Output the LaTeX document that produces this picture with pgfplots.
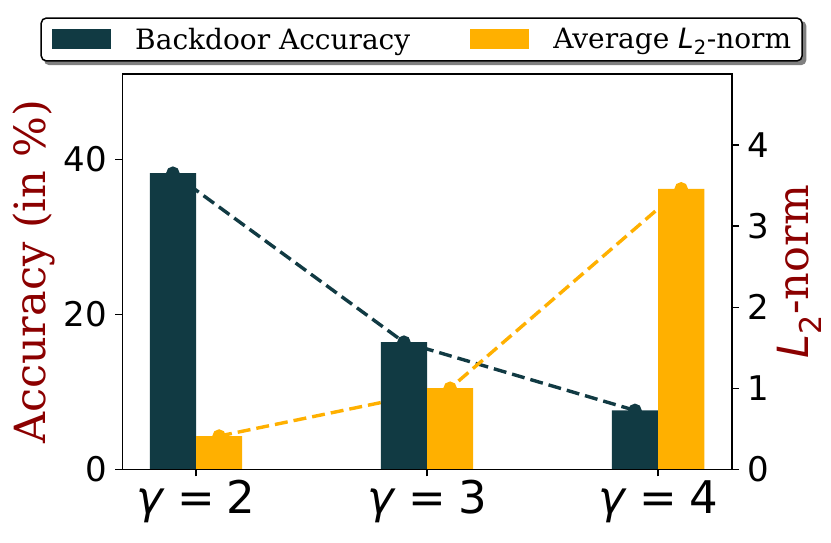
\documentclass[border=0pt]{standalone}
\usepackage{pgfplots}
\pgfplotsset{compat=1.18}
\usepackage{pgfplotstable}
\usepackage{fontspec}
\setmainfont{DejaVu Serif}
\newfontfamily\dejasans{DejaVu Sans}
\pgfdeclarelayer{background}
\pgfsetlayers{background,main}
\definecolor{darkc}{RGB}{17,58,67}
\definecolor{yell}{RGB}{255,176,0}
\definecolor{lab}{RGB}{139,0,0}

\pgfplotstableread{
x acc l2
0 38.2 0.41
1 16.4 1.00
2 7.6 3.46
}\data

\pgfplotsset{
  base/.style={scale only axis, width=609.7pt, height=395.3pt,
    xmin=-0.319, xmax=2.320, ymin=0},
  leftscale/.style={base, ymax=51.0},
  rightscale/.style={base, ymax=4.877},
  dline/.style={line width=3.4pt, dash pattern=on 13pt off 6pt, mark=*, mark size=5pt,
    mark options={solid}},
}

\begin{document}
\begin{tikzpicture}
% lines (behind bars)
\begin{axis}[leftscale, hide axis]
\addplot[dline, color=darkc] table[x expr=\thisrow{x}-0.1, y=acc] {\data};
\end{axis}
\begin{axis}[rightscale, hide axis]
\addplot[dline, color=yell] table[x expr=\thisrow{x}+0.1, y=l2] {\data};
\end{axis}
% bars
\begin{axis}[leftscale, hide axis]
\addplot[ybar, bar width=0.2, bar shift=-0.1, fill=darkc, draw=none] table[x=x, y=acc] {\data};
\end{axis}
\begin{axis}[rightscale, hide axis]
\addplot[ybar, bar width=0.2, bar shift=0.1, fill=yell, draw=none] table[x=x, y=l2] {\data};
\end{axis}
% left axis frame, ticks, legend
\begin{axis}[leftscale,
  axis line style={line width=1.5pt},
  tick style={line width=1.3pt, black},
  tick align=outside, major tick length=7pt,
  xtick pos=bottom, ytick pos=left,
  xtick={0,1,2},
  xticklabels={{\textit{γ}\hspace{0.27em}=\hspace{0.27em}2},{\textit{γ}\hspace{0.27em}=\hspace{0.27em}3},{\textit{γ}\hspace{0.27em}=\hspace{0.27em}4}},
  xticklabel style={font=\dejasans\fontsize{45}{45}\selectfont, inner sep=0pt, yshift=-4pt},
  ytick={0,20,40}, yticklabels={0,20,40},
  yticklabel style={font=\dejasans\fontsize{34}{34}\selectfont, inner ysep=0pt, inner xsep=8pt},
  ylabel={Accuracy (in \%)},
  ylabel style={font=\fontsize{43}{43}\selectfont, color=lab, at={(axis description cs:-0.126,0.5)}, anchor=base, rotate=0, inner sep=0pt},
  legend columns=2,
  legend image code/.code={\fill[#1, sharp corners] (0pt,-10pt) rectangle (59pt,10pt);},
  legend style={name=leg, at={(0.491,1.0873)}, anchor=center, draw=black, line width=1.5pt,
    rounded corners=5pt, fill=white,
    font=\fontsize{28}{30}\selectfont, inner xsep=11pt, inner ysep=10pt,
    column sep=24pt,
    /tikz/every even column/.append style={column sep=60pt},
    nodes={inner sep=0pt}},
]
\addlegendimage{fill=darkc, draw=none}
\addlegendentry{Backdoor Accuracy}
\addlegendimage{fill=yell, draw=none}
\addlegendentry{Average {\dejasans\textit{L}\textsubscript{2}}-norm}
\end{axis}
\begin{pgfonlayer}{background}
\fill[black!50, rounded corners=5pt] ([shift={(3.5pt,-3.5pt)}]leg.south west) rectangle ([shift={(3.5pt,-3.5pt)}]leg.north east);
\end{pgfonlayer}
% right axis
\begin{axis}[rightscale,
  axis x line=none, axis y line*=right,
  axis line style={line width=1.5pt, -},
  tick style={line width=1.3pt, black},
  tick align=outside, major tick length=7pt,
  ytick={0,1,2,3,4}, yticklabels={0,1,2,3,4},
  yticklabel style={font=\dejasans\fontsize{34}{34}\selectfont, inner ysep=0pt, inner xsep=8pt},
  ylabel={{\dejasans\textit{L}\textsubscript{2}}-norm},
  ylabel style={font=\fontsize{43}{43}\selectfont, color=lab, at={(axis description cs:1.1247,0.5)}, anchor=base, rotate=0, inner sep=0pt},
]
\end{axis}
\pgfresetboundingbox
\path[use as bounding box] (-122.3pt,-73.7pt) rectangle (708.7pt,469.3pt);
\end{tikzpicture}
\end{document}
